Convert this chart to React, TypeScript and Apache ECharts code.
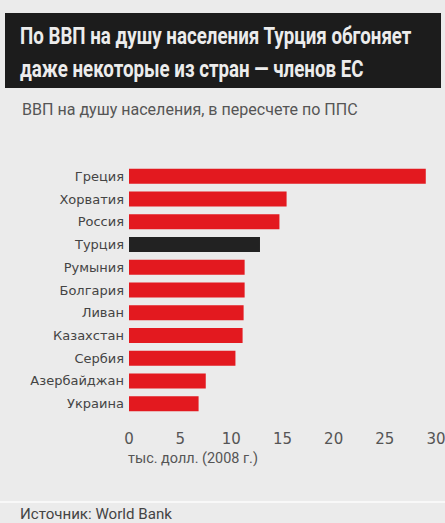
import React, { useEffect, useRef } from "react";
import * as echarts from "echarts";

const categories = ["Греция", "Хорватия", "Россия", "Турция", "Румыния", "Болгария", "Ливан", "Казахстан", "Сербия", "Азербайджан", "Украина"];
const values = [29.0, 15.4, 14.7, 12.8, 11.3, 11.3, 11.2, 11.1, 10.4, 7.5, 6.8];
const highlight = "Турция";
const titleLines = ["По ВВП на душу населения Турция обгоняет", "даже некоторые из стран — членов ЕС"];
const subtitle = "ВВП на душу населения, в пересчете по ППС";
const unitLabel = "тыс. долл. (2008 г.)";
const sourceText = "Источник: World Bank";

const FONT = "Roboto, 'DejaVu Sans', sans-serif";
const AXFONT = "'DejaVu Sans', sans-serif";

function measure(text: string, font: string): number {
  const c = document.createElement("canvas");
  const ctx = c.getContext("2d")!;
  ctx.font = font;
  return ctx.measureText(text).width || 1;
}

function fitText(text: string, x: number, y: number, font: string, targetWidth: number, fill: string, scaleFrom?: string) {
  const w = measure(scaleFrom ?? text, font);
  return {
    type: "text",
    x,
    y,
    scaleX: targetWidth / w,
    style: { text, fill, font, textVerticalAlign: "middle", textAlign: "left" },
  };
}

export default function App() {
  const ref = useRef<HTMLDivElement>(null);
  useEffect(() => {
    document.body.style.margin = "0";
    const chart = echarts.init(ref.current!, null, { renderer: "svg" });
    const titleFont = `bold 24px ${FONT}`;
    chart.setOption({
      animation: false,
      backgroundColor: "#ebebeb",
      textStyle: { fontFamily: AXFONT },
      grid: { left: 129, right: 9, top: 165, height: 250, containLabel: false, outerBoundsMode: "none" },
      xAxis: {
        type: "value",
        min: 0,
        max: 30,
        interval: 5,
        axisLine: { show: false },
        axisTick: { show: false },
        splitLine: { show: false },
        axisLabel: { color: "#555", fontSize: 15, fontFamily: AXFONT, margin: 16 },
      },
      yAxis: {
        type: "category",
        inverse: true,
        data: categories,
        axisLine: { show: false },
        axisTick: { show: false },
        axisLabel: { color: "#444", fontSize: 13, fontFamily: AXFONT, margin: 5 },
      },
      series: [
        {
          type: "bar",
          barWidth: 15,
          data: values.map((v, i) => ({
            value: v,
            itemStyle: { color: categories[i] === highlight ? "#222222" : "#e3191f" },
          })),
        },
      ],
      graphic: [
        { type: "rect", shape: { x: 5, y: 13, width: 436, height: 75 }, style: { fill: "#1c1c1c" } },
        fitText(titleLines[0], 20, 36, titleFont, 392, "#ececec"),
        fitText(titleLines[1], 20, 69, titleFont, 392, "#ececec", titleLines[0]),
        fitText(subtitle, 22, 110, `16px ${FONT}`, 336, "#555"),
        fitText(unitLabel, 128, 458, `14px ${FONT}`, 130, "#555"),
        { type: "line", shape: { x1: 0, y1: 502, x2: 445, y2: 502 }, style: { stroke: "#f8f8f8", lineWidth: 2 } },
        fitText(sourceText, 20, 514, `15px ${FONT}`, 152, "#444"),
      ],
    });
    return () => chart.dispose();
  }, []);
  return <div ref={ref} style={{ width: 445, height: 523 }} />;
}
